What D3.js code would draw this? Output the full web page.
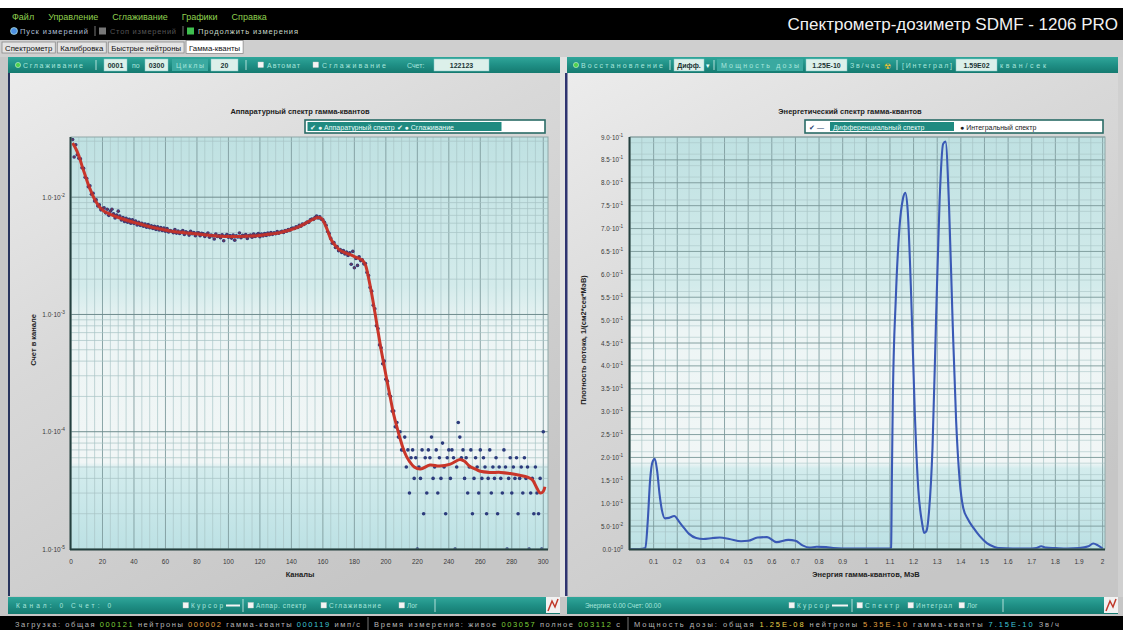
<!DOCTYPE html>
<html><head><meta charset="utf-8">
<script src="https://cdn.jsdelivr.net/npm/d3@7/dist/d3.min.js"></script>
<style>
html,body{margin:0;padding:0;background:#c6c6c6;overflow:hidden}
svg{display:block;font-family:"Liberation Sans",Arial,sans-serif}
</style></head><body>
<svg id="c" width="1123" height="630"></svg>
<script>
// ================= DATA =================
// measured counts per channel, channels 1..300 (Аппаратурный спектр)
const channelCounts = [
3100,2200,2800,2300,2150,2120,1780,1760,1480,1440,1230,1250,1060,1080,930,950,840,860,780,800,
810,735,790,700,760,790,720,665,705,760,690,640,670,620,660,612,648,600,640,598,
625,580,612,575,600,565,590,555,585,548,570,540,565,530,558,525,550,520,545,512,
540,505,520,512,498,530,494,515,490,508,520,481,506,498,475,512,488,500,470,495,
498,470,492,488,462,480,495,455,476,468,440,485,462,470,452,478,425,466,480,455,
470,448,475,430,468,458,495,452,472,462,480,445,470,476,455,485,462,478,490,460,
485,468,490,472,495,478,500,482,498,488,510,492,505,512,500,520,512,530,522,540,
545,540,560,552,575,565,590,585,600,615,610,640,652,645,670,690,665,680,650,640,
610,575,510,490,445,405,410,372,380,350,358,338,350,328,340,318,335,268,345,250,
300,262,310,288,292,270,272,228,215,170,158,120,112,80,76,55,52,38,40,28,
27,21,20,15,15,11,12,9,10,7,7,9,5,7,3,6,7,4,6,1,
5,4,7,2,6,3,7,6,9,4,5,7,3,6,4,8,5,2,6,7,
4,7,6,1,5,12,9,6,7,4,6,3,5,7,2,4,6,5,3,7,
4,6,5,2,4,7,3,5,4,6,2,5,4,3,7,5,1,4,6,3,
5,4,6,2,4,5,3,6,4,5,1,3,4,2,5,3,2,4,1,10
];
// smoothed spectrum (Сглаживание)
const smoothChannels = [1,3,5,7,9,11,13,15,18,21,25,31,38,44,50,57,63,69,76,82,89,95,101,107,114,120,127,133,139,145,150,154,157,159,161,163,165,168,171,174,177,180,183,185,187,189,191,193,195,197,199,201,203,205,207,209,211,213,215,218,222,228,234,241,247,250,253,257,260,266,273,279,285,290,293,296,298,300,301];
const smoothCounts = [2900,2600,2250,1850,1540,1280,1100,960,830,760,715,665,620,590,560,535,515,502,492,483,472,465,462,463,466,472,485,500,525,562,610,650,672,660,600,520,440,385,352,336,325,312,300,290,265,205,150,105,72,50,36,26,19,14,11,8.8,7.2,6.2,5.6,5.0,4.8,5.2,5.1,5.3,5.8,5.6,5.1,4.8,4.6,4.5,4.5,4.4,4.25,4.1,3.9,3.3,3.0,3.1,3.4];
const leftXTicks = [0,20,40,60,80,100,120,140,160,180,200,220,240,260,280,300];
const leftYTicks = [1000,100,10,1];
const leftYTickLabels = [["1.0·10","-2"],["1.0·10","-3"],["1.0·10","-4"],["1.0·10","-5"]];

// energy spectrum (Дифференциальный спектр)
const energies = [0,0.04,0.065,0.075,0.085,0.095,0.105,0.115,0.125,0.135,0.148,0.165,0.187,0.21,0.23,0.25,0.28,0.31,0.35,0.38,0.42,0.47,0.5,0.54,0.58,0.62,0.67,0.7,0.73,0.76,0.79,0.83,0.86,0.9,1.0,1.1,1.105,1.108,1.112,1.125,1.14,1.155,1.165,1.175,1.19,1.205,1.22,1.235,1.245,1.255,1.265,1.28,1.295,1.31,1.325,1.335,1.35,1.365,1.38,1.395,1.41,1.43,1.455,1.48,1.51,1.54,1.56,1.62,1.7,1.72,1.74,1.76,1.8,1.85,1.9,1.94,1.96,1.98,2.0];
const fluxDensity = [0,0,0.002,0.06,0.15,0.19,0.197,0.17,0.12,0.085,0.067,0.068,0.072,0.058,0.045,0.033,0.024,0.022,0.024,0.025,0.022,0.017,0.018,0.025,0.026,0.015,0.02,0.018,0.008,0.003,0.005,0.004,0.002,0.001,0.001,0.001,0.003,0.15,0.32,0.55,0.7,0.765,0.778,0.74,0.55,0.3,0.13,0.06,0.035,0.04,0.08,0.22,0.5,0.76,0.885,0.89,0.75,0.5,0.28,0.15,0.09,0.065,0.045,0.028,0.013,0.005,0.002,0.001,0.001,0.002,0.006,0.003,0.002,0.001,0.002,0.006,0.012,0.008,0.001];
const rightXTicks = [0.1,0.2,0.3,0.4,0.5,0.6,0.7,0.8,0.9,1,1.1,1.2,1.3,1.4,1.5,1.6,1.7,1.8,1.9,2];
const rightYTicks = [0,0.05,0.1,0.15,0.2,0.25,0.3,0.35,0.4,0.45,0.5,0.55,0.6,0.65,0.7,0.75,0.8,0.85,0.9];
const rightYTickLabels = [["0.0·10","0"],["5.0·10","-2"],["1.0·10","-1"],["1.5·10","-1"],["2.0·10","-1"],["2.5·10","-1"],["3.0·10","-1"],["3.5·10","-1"],["4.0·10","-1"],["4.5·10","-1"],["5.0·10","-1"],["5.5·10","-1"],["6.0·10","-1"],["6.5·10","-1"],["7.0·10","-1"],["7.5·10","-1"],["8.0·10","-1"],["8.5·10","-1"],["9.0·10","-1"]];

const menuItems = ["Файл","Управление","Сглаживание","Графики","Справка"];
const tabs = ["Спектрометр","Калибровка","Быстрые нейтроны","Гамма-кванты"];

// ================= DRAW =================
const svg = d3.select("#c");
const defs = svg.append("defs");
function grad(id, stops, x2, y2){
  const g = defs.append("linearGradient").attr("id",id).attr("x1",0).attr("y1",0).attr("x2",x2).attr("y2",y2);
  stops.forEach(s=>g.append("stop").attr("offset",s[0]).attr("stop-color",s[1]));
}
grad("plotBg",[[0,"#bfe1e2"],[0.36,"#d3ebeb"],[0.47,"#edf5f5"],[0.79,"#f1f6f6"],[0.805,"#d3eced"],[1,"#bce1e4"]],0,1);
grad("panelBg",[[0,"#ececec"],[0.45,"#d8d8d8"],[1,"#c6c6c6"]],0.6,1);
grad("teal",[[0,"#30a69a"],[0.5,"#1f8f85"],[1,"#157a70"]],0,1);

svg.append("rect").attr("width",1123).attr("height",630).attr("fill","#c6c6c6");
svg.append("rect").attr("width",1123).attr("height",8).attr("fill","#ffffff");
svg.append("rect").attr("y",8).attr("width",1123).attr("height",32).attr("fill","#000");

// menu
let mx = 12;
const menuG = svg.append("g");
menuItems.forEach(m=>{
  const t = menuG.append("text").attr("x",mx).attr("y",20).attr("font-size",9).attr("fill","#8fd14f").text(m);
  mx += t.node().getComputedTextLength() + 14;
});
svg.append("circle").attr("cx",14).attr("cy",31).attr("r",3.5).attr("fill","#4d8fe0").attr("stroke","#cfe").attr("stroke-width",0.6);
svg.append("text").attr("x",20).attr("y",34).attr("font-size",7.5).attr("fill","#aebfd6").attr("textLength",68).text("Пуск измерений");
svg.append("line").attr("x1",95).attr("x2",95).attr("y1",26).attr("y2",36).attr("stroke","#777");
svg.append("rect").attr("x",99).attr("y",27.5).attr("width",7).attr("height",7).attr("fill","#777");
svg.append("text").attr("x",110).attr("y",34).attr("font-size",7.5).attr("fill","#555").attr("textLength",66).text("Стоп измерений");
svg.append("line").attr("x1",183).attr("x2",183).attr("y1",26).attr("y2",36).attr("stroke","#777");
svg.append("rect").attr("x",187).attr("y",27.5).attr("width",7).attr("height",7).attr("fill","#3fbf4f");
svg.append("text").attr("x",198).attr("y",34).attr("font-size",7.5).attr("fill","#c8d8c8").attr("textLength",100).text("Продолжить измерения");
svg.append("text").attr("x",1118).attr("y",30).attr("text-anchor","end").attr("font-size",17).attr("fill","#f2f2f2")
  .text("Спектрометр-дозиметр SDMF - 1206 PRO");

// tabs row
svg.append("rect").attr("y",40).attr("width",1123).attr("height",17).attr("fill","#cfcfcf");
let tx = 2;
tabs.forEach((t,i)=>{
  const g = svg.append("g");
  const txt = g.append("text").attr("x",tx+3).attr("y",50.5).attr("font-size",7.8).attr("fill","#111").text(t);
  const w = txt.node().getComputedTextLength()+6;
  g.insert("rect","text").attr("x",tx).attr("y",i===3?40.5:42).attr("width",w).attr("height",i===3?13:11)
    .attr("fill",i===3?"#ffffff":"#e4e4e4").attr("stroke","#8a8a8a").attr("stroke-width",0.8);
  tx += w + 2;
});

// toolbars
function teal(x0,x1,y0,y1){ svg.append("rect").attr("x",x0).attr("y",y0).attr("width",x1-x0).attr("height",y1-y0).attr("fill","url(#teal)"); }
function ttext(x,y,s,opt={}){ const t = svg.append("text").attr("x",x).attr("y",y).attr("font-size",opt.fs||7).attr("fill",opt.fill||"#a8e6dc").attr("font-weight",opt.fw||"normal").attr("text-anchor",opt.anchor||"start").text(s); if(opt.len) t.attr("textLength",opt.len); return t; }
function tbox(x,y,w,h,s,fill){ svg.append("rect").attr("x",x).attr("y",y).attr("width",w).attr("height",h).attr("fill",fill||"#dcf0ea").attr("stroke","#8cc").attr("stroke-width",0.5);
  ttext(x+w/2,y+h-3.5,s,{fill:"#1b3535",fw:"bold",anchor:"middle",fs:7}); }
function dot(x,y,c){ svg.append("circle").attr("cx",x).attr("cy",y).attr("r",2.6).attr("fill",c).attr("stroke","#e8ffe8").attr("stroke-width",0.5); }
function chk(x,y){ svg.append("rect").attr("x",x).attr("y",y).attr("width",5.5).attr("height",5.5).attr("fill","#f4f4f4").attr("stroke","#ccc").attr("stroke-width",0.4); }
function sep(x,y0,y1){ svg.append("line").attr("x1",x).attr("x2",x).attr("y1",y0).attr("y2",y1).attr("stroke","#d8f2ee").attr("stroke-width",0.8); }

teal(8,560,57,73); teal(567,1118,57,73);
dot(18,65,"#4fd04f"); ttext(23,68,"Сглаживание",{len:60}); sep(96,60,70);
tbox(104,59,23,12,"0001"); ttext(132,68,"по"); tbox(145,59,23,12,"0300");
svg.append("rect").attr("x",172).attr("y",59).attr("width",36).attr("height",12).attr("fill","#3aa9a0");
ttext(176,68,"Циклы",{len:28}); tbox(211,59,27,12,"20"); sep(246,60,70);
chk(258,62); ttext(267,68,"Автомат",{len:33}); chk(313,62); ttext(322,68,"Сглаживание",{len:64});
ttext(407,68,"Счет:"); tbox(434,59,55,12,"122123");

dot(576,65,"#4fd04f"); ttext(581,68,"Восстановление",{len:82}); sep(670,60,70);
tbox(674,59,30,12,"Дифф."); ttext(706,68,"▾",{fill:"#dff"}); sep(714,60,70);
svg.append("rect").attr("x",717).attr("y",59).attr("width",86).attr("height",12).attr("fill","#3aa9a0");
ttext(721,68,"Мощность дозы",{len:78}); tbox(806,59,41,12,"1.25E-10"); ttext(850,68,"Зв/час",{len:30});
ttext(884,68.5,"☢",{fill:"#f2c230",fs:8}); sep(897,60,70);
ttext(902,68,"[Интеграл]",{len:50}); tbox(956,59,41,12,"1.59E02"); ttext(1000,68,"кван/сек",{len:46});

// panels
svg.append("rect").attr("x",8).attr("y",73).attr("width",552).attr("height",523).attr("fill","url(#panelBg)");
svg.append("rect").attr("x",567).attr("y",73).attr("width",551).attr("height",523).attr("fill","url(#panelBg)");
svg.append("rect").attr("x",560).attr("y",57).attr("width",7).attr("height",540).attr("fill","#e2e2e2");
svg.append("rect").attr("x",8).attr("y",73).attr("width",2).attr("height",523).attr("fill","#27335c");
svg.append("rect").attr("x",565).attr("y",73).attr("width",2.5).attr("height",523).attr("fill","#2f3470");
svg.append("rect").attr("x",1118).attr("y",57).attr("width",5).attr("height",540).attr("fill","#d0d0d0");

// ---------- LEFT CHART ----------
const L = {x0:71,x1:548,y0:137,y1:549};
const xL = d3.scaleLinear().domain([0,303]).range([L.x0,L.x1]);
const yL = d3.scaleLog().domain([1,3260]).range([L.y1,L.y0]);
const gL = svg.append("g");
gL.append("rect").attr("x",L.x0).attr("y",L.y0).attr("width",L.x1-L.x0).attr("height",L.y1-L.y0).attr("fill","url(#plotBg)");
const vMinorL = d3.range(5,303,5).filter(v=>v%20!==0);
gL.selectAll(".vm").data(vMinorL).join("line").attr("x1",d=>xL(d)).attr("x2",d=>xL(d)).attr("y1",L.y0).attr("y2",L.y1).attr("stroke","#a9c6c7").attr("stroke-width",0.7);
gL.selectAll(".vM").data(leftXTicks.filter(v=>v>0)).join("line").attr("x1",d=>xL(d)).attr("x2",d=>xL(d)).attr("y1",L.y0).attr("y2",L.y1).attr("stroke","#7f9c9e").attr("stroke-width",0.9);
const hMinorL = [];
[1,10,100,1000].forEach(dec=>{ for(let k=2;k<=9;k++){ const v=dec*k; if(v<3260) hMinorL.push(v);} });
gL.selectAll(".hm").data(hMinorL).join("line").attr("x1",L.x0).attr("x2",L.x1).attr("y1",d=>yL(d)).attr("y2",d=>yL(d)).attr("stroke","#a7c3c4").attr("stroke-width",0.7);
gL.selectAll(".hM").data(leftYTicks.filter(v=>v>1)).join("line").attr("x1",L.x0).attr("x2",L.x1).attr("y1",d=>yL(d)).attr("y2",d=>yL(d)).attr("stroke","#6f8c8e").attr("stroke-width",1);
defs.append("clipPath").attr("id","clipL").append("rect").attr("x",L.x0).attr("y",L.y0-3).attr("width",L.x1-L.x0+3).attr("height",L.y1-L.y0+4);
const dataL = gL.append("g").attr("clip-path","url(#clipL)");
dataL.selectAll("circle").data(channelCounts).join("circle")
  .attr("cx",(d,i)=>xL(i+1)).attr("cy",d=>yL(d)).attr("r",1.8).attr("fill","#2c3b7c");
const smoothData = smoothChannels.map((c,i)=>[c,smoothCounts[i]]);
dataL.append("path").datum(smoothData).attr("fill","none").attr("stroke","#c9362a").attr("stroke-width",3).attr("stroke-linejoin","round")
  .attr("d",d3.line().x(d=>xL(d[0])).y(d=>yL(d[1])).curve(d3.curveCatmullRom));
dataL.selectAll(".rd").data(channelCounts.slice(0,200)).join("circle")
  .attr("cx",(d,i)=>xL(i+1)).attr("cy",d=>yL(d)).attr("r",1.1).attr("fill","#a3303a").attr("opacity",0.55);
gL.append("rect").attr("x",L.x0).attr("y",L.y0).attr("width",L.x1-L.x0).attr("height",L.y1-L.y0).attr("fill","none").attr("stroke","#8fa8a8").attr("stroke-width",1);
gL.append("line").attr("x1",L.x0-0.5).attr("x2",L.x0-0.5).attr("y1",L.y0).attr("y2",L.y1+1).attr("stroke","#24403f").attr("stroke-width",2);
gL.append("line").attr("x1",L.x0-1).attr("x2",L.x1).attr("y1",L.y1+0.5).attr("y2",L.y1+0.5).attr("stroke","#24403f").attr("stroke-width",2);
gL.selectAll(".xl").data(leftXTicks).join("text").attr("x",d=>xL(d)).attr("y",564).attr("text-anchor","middle").attr("font-size",6.5).attr("fill","#3a3a3a").text(d=>d);
leftYTicks.forEach((v,i)=>{
  const t = gL.append("text").attr("x",65).attr("y",yL(v)+2.5).attr("text-anchor","end").attr("font-size",6.5).attr("fill","#3a3a3a");
  t.append("tspan").text(leftYTickLabels[i][0]);
  t.append("tspan").attr("dy",-3).attr("font-size",4.8).text(leftYTickLabels[i][1]);
});
gL.append("text").attr("x",300).attr("y",577).attr("text-anchor","middle").attr("font-size",7.5).attr("font-weight","bold").attr("fill","#222").text("Каналы");
gL.append("text").attr("transform","translate(36,340) rotate(-90)").attr("text-anchor","middle").attr("font-size",7.5).attr("font-weight","bold").attr("fill","#222").text("Счет в канале");
gL.append("text").attr("x",300).attr("y",114).attr("text-anchor","middle").attr("font-size",7.5).attr("font-weight","bold").attr("fill","#222").text("Аппаратурный спектр гамма-квантов");
gL.append("rect").attr("x",305).attr("y",120).attr("width",240).attr("height",13).attr("fill","#ffffff").attr("stroke","#2a6b66").attr("stroke-width",1.6);
gL.append("rect").attr("x",307.5).attr("y",122).attr("width",194).attr("height",9).attr("fill","#1f8a80");
gL.append("text").attr("x",310).attr("y",129.5).attr("font-size",7).attr("fill","#e9fbf8").text("✔ ● Аппаратурный спектр ✔ ● Сглаживание");

// ---------- RIGHT CHART ----------
const R = {x0:630,x1:1105,y0:137,y1:549};
const xR = d3.scaleLinear().domain([0,2.01]).range([R.x0,R.x1]);
const yR = d3.scaleLinear().domain([0,0.9]).range([R.y1,R.y0]);
const gR = svg.append("g");
gR.append("rect").attr("x",R.x0).attr("y",R.y0).attr("width",R.x1-R.x0).attr("height",R.y1-R.y0).attr("fill","url(#plotBg)");
const vMinorR = d3.range(0.05,2.01,0.1);
gR.selectAll(".vm").data(vMinorR).join("line").attr("x1",d=>xR(d)).attr("x2",d=>xR(d)).attr("y1",R.y0).attr("y2",R.y1).attr("stroke","#a7c4c5").attr("stroke-width",0.7);
gR.selectAll(".vM").data(rightXTicks).join("line").attr("x1",d=>xR(d)).attr("x2",d=>xR(d)).attr("y1",R.y0).attr("y2",R.y1).attr("stroke","#7f9c9e").attr("stroke-width",0.9);
const hMinorR = d3.range(0.0125,0.9,0.025).filter(v=>Math.abs(v/0.05-Math.round(v/0.05))>0.01);
gR.selectAll(".hm").data(hMinorR).join("line").attr("x1",R.x0).attr("x2",R.x1).attr("y1",d=>yR(d)).attr("y2",d=>yR(d)).attr("stroke","#a9c5c6").attr("stroke-width",0.6);
gR.selectAll(".hM").data(rightYTicks.filter(v=>v>0)).join("line").attr("x1",R.x0).attr("x2",R.x1).attr("y1",d=>yR(d)).attr("y2",d=>yR(d)).attr("stroke","#7a9798").attr("stroke-width",0.9);
defs.append("clipPath").attr("id","clipR").append("rect").attr("x",R.x0).attr("y",R.y0-2).attr("width",R.x1-R.x0).attr("height",R.y1-R.y0+3);
const specData = energies.map((e,i)=>[e,fluxDensity[i]]);
gR.append("g").attr("clip-path","url(#clipR)").append("path").datum(specData).attr("fill","none").attr("stroke","#3a59b5").attr("stroke-width",2.1).attr("stroke-linejoin","round")
  .attr("d",d3.line().x(d=>xR(d[0])).y(d=>yR(d[1])).curve(d3.curveMonotoneX));
gR.append("rect").attr("x",R.x0).attr("y",R.y0).attr("width",R.x1-R.x0).attr("height",R.y1-R.y0).attr("fill","none").attr("stroke","#8fa8a8").attr("stroke-width",1);
gR.append("line").attr("x1",R.x0-0.5).attr("x2",R.x0-0.5).attr("y1",R.y0).attr("y2",R.y1+1).attr("stroke","#24403f").attr("stroke-width",2);
gR.append("line").attr("x1",R.x0-1).attr("x2",R.x1).attr("y1",R.y1+0.5).attr("y2",R.y1+0.5).attr("stroke","#24403f").attr("stroke-width",2);
gR.selectAll(".xl").data(rightXTicks).join("text").attr("x",d=>xR(d)).attr("y",564).attr("text-anchor","middle").attr("font-size",6.5).attr("fill","#3a3a3a").text(d=>String(+d.toFixed(1)));
rightYTicks.forEach((v,i)=>{
  const t = gR.append("text").attr("x",623).attr("y",yR(v)+2.5).attr("text-anchor","end").attr("font-size",6.3).attr("fill","#3a3a3a");
  t.append("tspan").text(rightYTickLabels[i][0]);
  t.append("tspan").attr("dy",-3).attr("font-size",4.6).text(rightYTickLabels[i][1]);
});
gR.append("text").attr("x",866).attr("y",577).attr("text-anchor","middle").attr("font-size",7.5).attr("font-weight","bold").attr("fill","#222").text("Энергия гамма-квантов, МэВ");
gR.append("text").attr("transform","translate(586,340) rotate(-90)").attr("text-anchor","middle").attr("font-size",7.5).attr("font-weight","bold").attr("fill","#222").text("Плотность потока, 1/(см2*сек*МэВ)");
gR.append("text").attr("x",850).attr("y",114).attr("text-anchor","middle").attr("font-size",7.5).attr("font-weight","bold").attr("fill","#222").text("Энергетический спектр гамма-квантов");
gR.append("rect").attr("x",805).attr("y",120).attr("width",298).attr("height",13).attr("fill","#ffffff").attr("stroke","#2a6b66").attr("stroke-width",1.6);
gR.append("rect").attr("x",830).attr("y",122).attr("width",124).attr("height",9).attr("fill","#1f8a80");
gR.append("text").attr("x",809).attr("y",129.5).attr("font-size",7).attr("fill","#1f3d6e").text("✔ —");
gR.append("text").attr("x",833).attr("y",129.5).attr("font-size",7).attr("fill","#e9fbf8").text("Дифференциальный спектр");
gR.append("text").attr("x",960).attr("y",129.5).attr("font-size",7).attr("fill","#222").text("● Интегральный спектр");

// ---------- BOTTOM BARS ----------
teal(8,560,597,614); teal(567,1118,597,614);
ttext(16,608,"Канал: 0    Счет: 0",{fs:6.5,len:95});
chk(183,602.5); ttext(191,608,"Курсор",{fs:6.5,len:32});
svg.append("line").attr("x1",226).attr("x2",240).attr("y1",605.5).attr("y2",605.5).attr("stroke","#f4f4f4").attr("stroke-width",2);
sep(243,599,612); chk(248,602.5); ttext(256,608,"Аппар. спектр",{fs:6.5,len:50});
chk(321,602.5); ttext(329,608,"Сглаживание",{fs:6.5,len:52}); chk(399,602.5); ttext(407,608,"Лог",{fs:6.5}); sep(435,599,612);
svg.append("rect").attr("x",546).attr("y",597).attr("width",14).attr("height",16).attr("fill","#f2f2f2");
svg.append("path").attr("d","M548,611 L552,601 L555,607 L558,599").attr("stroke","#c0392b").attr("fill","none").attr("stroke-width",1.5);
ttext(585,608,"Энергия: 0.00    Счет: 00.00",{fs:6.5,len:76});
chk(789,602.5); ttext(797,608,"Курсор",{fs:6.5,len:32});
svg.append("line").attr("x1",832).attr("x2",848).attr("y1",605.5).attr("y2",605.5).attr("stroke","#f4f4f4").attr("stroke-width",2);
sep(852,599,612); chk(857,602.5); ttext(865,608,"Спектр",{fs:6.5,len:34});
chk(908,602.5); ttext(916,608,"Интеграл",{fs:6.5,len:36}); chk(959,602.5); ttext(967,608,"Лог",{fs:6.5}); sep(1003,599,612);
svg.append("rect").attr("x",1104).attr("y",597).attr("width",14).attr("height",16).attr("fill","#f2f2f2");
svg.append("path").attr("d","M1106,611 L1110,601 L1113,607 L1116,599").attr("stroke","#c0392b").attr("fill","none").attr("stroke-width",1.5);

// ---------- STATUS BAR ----------
svg.append("rect").attr("y",616).attr("width",1123).attr("height",14).attr("fill","#000");
function status(x, len, parts){
  const t = svg.append("text").attr("x",x).attr("y",626.5).attr("font-size",7.5).attr("fill","#b5b5b5").attr("textLength",len).attr("lengthAdjust","spacing");
  parts.forEach(p=>t.append("tspan").attr("fill",p[1]||"#b5b5b5").text(p[0]));
}
status(15,345,[["Загрузка: общая "],["000121","#7ccf3a"],["  нейтроны "],["000002","#e0a040"],["  гамма-кванты "],["000119","#3fc6d8"],["  имп/с"]]);
svg.append("line").attr("x1",368).attr("x2",368).attr("y1",617).attr("y2",630).attr("stroke","#777");
status(374,246,[["Время измерения: живое "],["003057","#7ccf3a"],["  полное "],["003112","#7ccf3a"],["  с"]]);
svg.append("line").attr("x1",628).attr("x2",628).attr("y1",617).attr("y2",630).attr("stroke","#777");
status(634,425,[["Мощность дозы: общая "],["1.25E-08","#e8d24a"],[" нейтроны "],["5.35E-10","#e0a040"],["  гамма-кванты "],["7.15E-10","#3fc6d8"],["  Зв/ч"]]);
</script>
</body></html>
